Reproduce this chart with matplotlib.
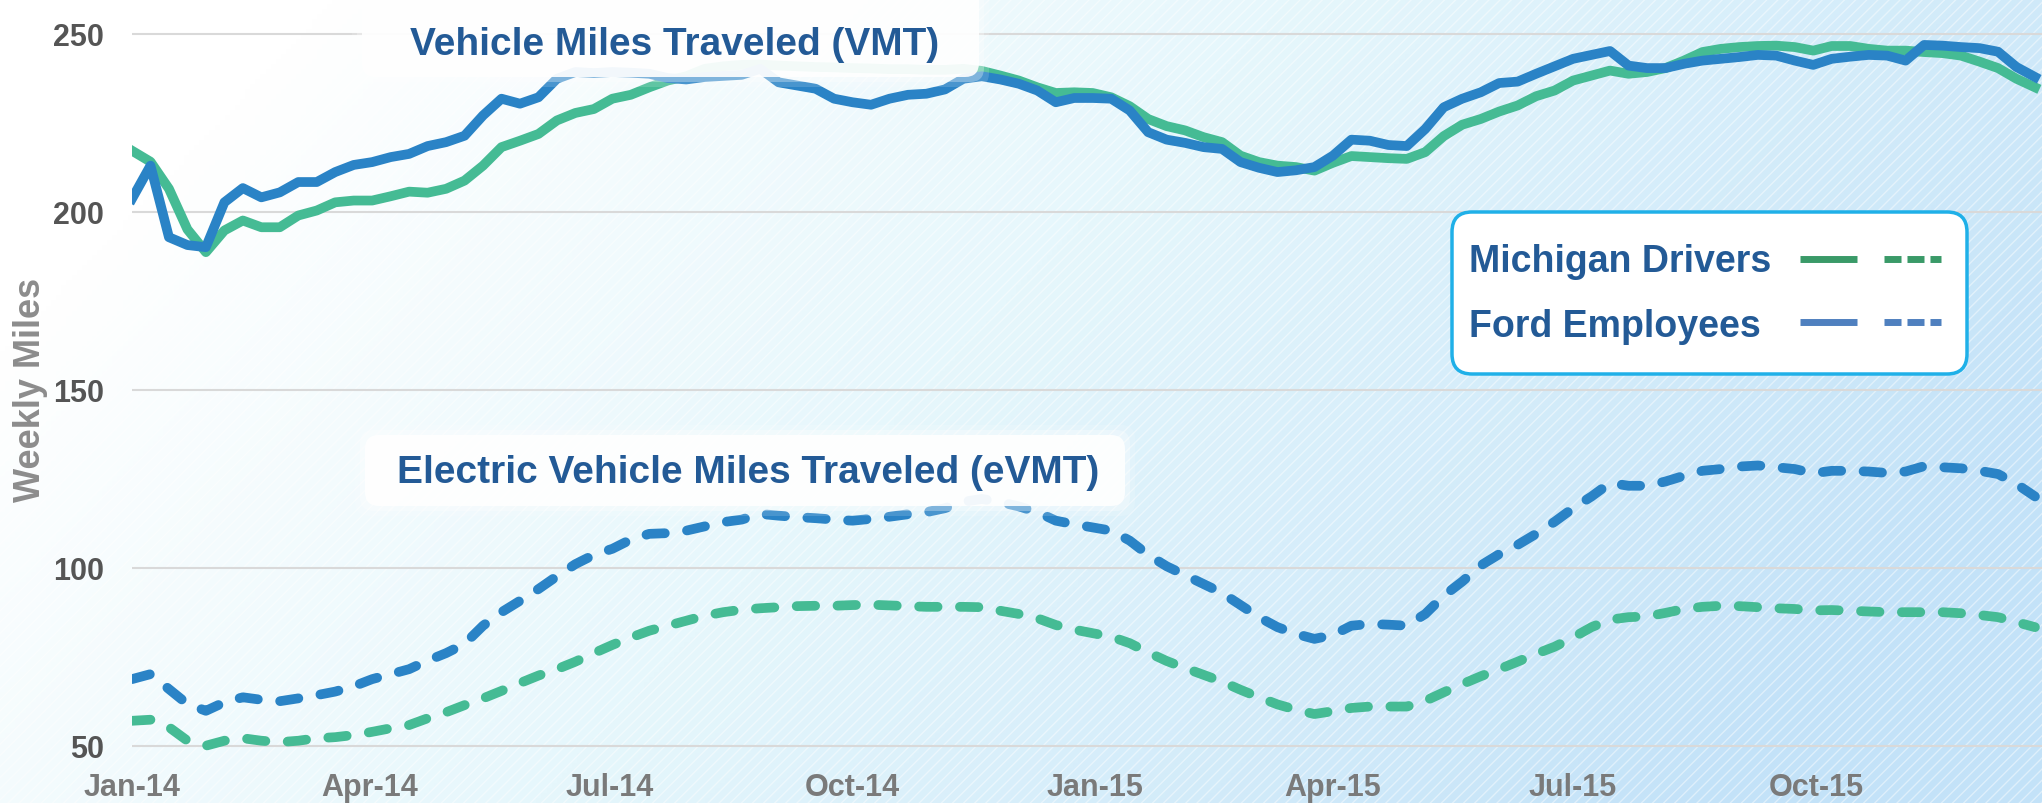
# vmt_chart.py
# weekly VMT / eVMT, Michigan drivers vs Ford employees

import numpy as np
import pandas as pd
import matplotlib
matplotlib.use("Agg")
import matplotlib.pyplot as plt
from matplotlib.patches import FancyBboxPatch, Rectangle
from matplotlib.lines import Line2D
from matplotlib.colors import LinearSegmentedColormap

# ---- data (one value per week) ----
weeks = pd.date_range("2014-01-01", periods=104, freq="7D")

michigan_vmt = [
    217.1, 214.0, 206.4, 195.0, 188.6, 194.7, 197.5, 195.6, 195.6, 198.9,
    200.3, 202.6, 203.1, 203.1, 204.3, 205.6, 205.3, 206.4, 208.7, 212.9,
    218.1, 219.9, 221.8, 225.6, 227.7, 228.8, 231.7, 232.8, 234.9, 236.8,
    238.0, 240.1, 240.8, 241.2, 241.3, 241.0, 240.8, 240.6, 240.5, 240.3,
    240.2, 240.0, 240.0, 239.8, 239.8, 240.1, 239.5, 238.2, 236.8, 234.9,
    233.3, 233.5, 233.3, 232.1, 229.6, 226.0, 224.0, 222.8, 220.9, 219.5,
    215.7, 213.9, 212.9, 212.5, 211.5, 213.7, 215.6, 215.3, 215.0, 214.8,
    216.7, 221.2, 224.4, 226.0, 228.1, 229.8, 232.4, 234.0, 236.8, 238.2,
    239.6, 238.7, 239.2, 240.3, 242.4, 244.8, 245.7, 246.2, 246.5, 246.6,
    246.2, 245.2, 246.5, 246.5, 245.7, 245.2, 245.2, 244.8, 244.5, 243.8,
    242.1, 240.3, 237.3, 234.9]

ford_vmt = [
    203.6, 212.9, 192.8, 190.6, 190.0, 202.6, 206.6, 204.0, 205.4, 208.3,
    208.3, 211.1, 213.1, 213.9, 215.3, 216.2, 218.4, 219.5, 221.3, 227.0,
    231.7, 230.3, 232.1, 237.3, 239.2, 238.9, 239.2, 239.0, 238.7, 237.5,
    237.1, 237.8, 238.1, 238.4, 240.1, 236.3, 235.4, 234.5, 231.7, 230.7,
    230.0, 231.7, 232.8, 233.1, 234.3, 237.3, 238.0, 237.1, 235.9, 234.0,
    230.7, 231.9, 231.9, 231.7, 228.4, 222.3, 220.2, 219.3, 218.1, 217.6,
    213.9, 212.3, 211.1, 211.6, 212.5, 215.7, 220.2, 219.9, 218.7, 218.4,
    223.2, 229.3, 231.7, 233.5, 236.1, 236.5, 238.7, 240.8, 242.9, 244.0,
    245.1, 241.0, 240.3, 240.3, 241.5, 242.4, 242.9, 243.4, 244.0, 243.8,
    242.4, 241.2, 242.9, 243.5, 244.0, 243.8, 242.4, 246.8, 246.6, 246.2,
    245.9, 244.9, 240.6, 237.8]

michigan_evmt = [
    57.0, 57.3, 55.2, 51.4, 50.0, 51.4, 52.1, 51.4, 51.0, 51.4,
    52.1, 52.4, 53.0, 53.9, 54.9, 55.8, 57.7, 59.4, 61.4, 63.3,
    65.4, 67.6, 69.7, 71.5, 73.6, 76.0, 78.3, 80.4, 82.3, 83.7,
    85.1, 86.5, 87.5, 88.2, 88.6, 88.9, 89.2, 89.3, 89.3, 89.5,
    89.6, 89.4, 89.2, 89.0, 89.0, 89.0, 88.9, 87.9, 87.0, 85.8,
    83.9, 82.6, 81.6, 80.6, 78.8, 76.2, 73.8, 71.8, 69.9, 68.0,
    65.7, 63.6, 61.6, 60.1, 58.9, 59.7, 60.6, 61.0, 61.0, 61.0,
    62.6, 65.0, 67.3, 69.5, 71.5, 73.6, 75.8, 77.8, 80.4, 83.3,
    85.4, 86.1, 86.3, 87.3, 88.4, 89.0, 89.3, 89.2, 88.9, 88.6,
    88.4, 88.0, 88.1, 87.9, 87.7, 87.5, 87.5, 87.5, 87.5, 87.2,
    86.7, 86.1, 84.7, 83.3]

ford_evmt = [
    68.7, 70.1, 65.9, 61.7, 59.8, 62.2, 63.6, 62.9, 62.5, 63.3,
    64.2, 65.2, 66.7, 68.7, 70.1, 71.5, 73.9, 76.0, 78.6, 83.7,
    87.5, 90.7, 94.0, 97.6, 101.0, 103.6, 105.3, 107.9, 109.5, 109.7,
    110.4, 111.6, 112.8, 113.5, 115.1, 114.6, 114.2, 113.9, 113.5, 113.2,
    113.7, 114.3, 115.0, 115.6, 116.7, 118.5, 119.3, 118.4, 117.2, 115.6,
    113.2, 112.2, 111.3, 110.4, 107.6, 103.6, 100.4, 97.9, 95.4, 92.9,
    89.5, 86.1, 83.3, 81.4, 80.0, 81.1, 83.7, 84.2, 84.0, 83.7,
    87.0, 92.1, 96.1, 100.6, 103.8, 106.4, 109.5, 112.9, 116.7, 120.0,
    123.8, 123.0, 123.0, 124.2, 125.8, 127.2, 127.7, 128.4, 128.7, 128.2,
    127.7, 126.5, 127.2, 127.2, 127.0, 126.6, 127.0, 128.5, 128.2, 127.9,
    127.2, 126.3, 123.5, 120.0]

tick_dates = pd.to_datetime(["2014-01-01", "2014-04-01", "2014-07-01", "2014-10-01",
                             "2015-01-01", "2015-04-01", "2015-07-01", "2015-10-01"])
tick_labels = ["Jan-14", "Apr-14", "Jul-14", "Oct-14",
               "Jan-15", "Apr-15", "Jul-15", "Oct-15"]
y_ticks = [50, 100, 150, 200, 250]

series_names = ["Michigan Drivers", "Ford Employees"]

# ---- style ----
plt.rcParams["font.family"] = ["Liberation Sans", "DejaVu Sans"]
plt.rcParams["font.weight"] = "bold"
plt.rcParams["hatch.linewidth"] = 1.0

green = "#45bb94"
blue = "#2a83c6"
title_blue = "#235a96"

W, H = 2042, 804
fig = plt.figure(figsize=(W / 100, H / 100), dpi=100)

# background: white -> light blue, with fine diagonal stripes
bg = fig.add_axes([0, 0, 1, 1], zorder=0)
xx, yy = np.meshgrid(np.linspace(0, 1, 400), np.linspace(0, 1, 160))
t = np.clip(0.95 * xx + 0.35 * yy - 0.15, 0, 1)
cmap = LinearSegmentedColormap.from_list(
    "bg", [(0, "#ffffff"), (0.45, "#e6f7fc"), (1, "#c3e2f8")])
bg.imshow(t, cmap=cmap, aspect="auto", extent=[0, 1, 0, 1], origin="upper")
bg.add_patch(Rectangle((0, 0), 1, 1, facecolor="none", edgecolor=(1, 1, 1, 0.45),
                       hatch="///", lw=0))
bg.set_xlim(0, 1)
bg.set_ylim(0, 1)
bg.axis("off")

# main chart
ax = fig.add_axes([132 / W, (H - 757.4) / H, 1 - 132 / W, 757.4 / H], zorder=1)
ax.patch.set_alpha(0)

ax.plot(weeks, michigan_vmt, color=green, lw=7, solid_joinstyle="round")
ax.plot(weeks, ford_vmt, color=blue, lw=7, solid_joinstyle="round")
ax.plot(weeks, michigan_evmt, color=green, lw=7, dashes=(1.9, 2.3),
        dash_capstyle="round", dash_joinstyle="round")
ax.plot(weeks, ford_evmt, color=blue, lw=7, dashes=(1.9, 2.3),
        dash_capstyle="round", dash_joinstyle="round")

ax.set_xlim(pd.Timestamp("2014-01-01"), pd.Timestamp("2015-12-25 16:00"))
ax.set_ylim(47, 259.7)
ax.set_yticks(y_ticks)
ax.set_xticks(tick_dates)
ax.set_xticklabels(tick_labels)
ax.grid(axis="y", color="#d9d9d9", lw=1.5)
ax.set_axisbelow(True)
for s in ax.spines.values():
    s.set_visible(False)
ax.tick_params(axis="y", length=0, pad=20, labelsize=22, labelcolor="#555555")
ax.tick_params(axis="x", length=0, pad=11, labelsize=22, labelcolor="#7a7a7a")

fig.text(31 / W, 1 - 390 / H, "Weekly Miles", rotation=90, ha="center", va="center",
         fontsize=26, color="#8c8c8c")

# overlay in pixel coordinates for title boxes and legend
ov = fig.add_axes([0, 0, 1, 1], zorder=3)
ov.set_xlim(0, W)
ov.set_ylim(H, 0)
ov.axis("off")

def soft_box(x0, y0, x1, y1):
    for grow, a in [(10, 0.15), (5, 0.3), (0, 0.9)]:
        ov.add_patch(FancyBboxPatch((x0 - grow, y0 - grow), x1 - x0 + 2 * grow,
                                    y1 - y0 + 2 * grow,
                                    boxstyle="round,pad=0,rounding_size=14",
                                    fc="white", ec="none", alpha=a))

soft_box(362, -20, 979, 78)
ov.text(674.5, 55, "Vehicle Miles Traveled (VMT)", ha="center", va="baseline",
        fontsize=28, color=title_blue)

soft_box(365, 436, 1125, 507)
ov.text(748, 483, "Electric Vehicle Miles Traveled (eVMT)", ha="center",
        va="baseline", fontsize=28, color=title_blue)

# legend
ov.add_patch(FancyBboxPatch((1452, 213), 515, 162,
                            boxstyle="round,pad=0,rounding_size=20",
                            fc="white", ec="#1fb0e8", lw=2.5))
leg_cols = ["#3a9a68", "#4f80bf"]
for i, name in enumerate(series_names):
    yb = 272 + i * 64.7
    yl = 260 + i * 63
    ov.text(1469, yb, name, ha="left", va="baseline", fontsize=27, color=title_blue)
    ov.add_line(Line2D([1800, 1857], [yl, yl], color=leg_cols[i], lw=5,
                       solid_capstyle="butt"))
    ov.add_line(Line2D([1884, 1941], [yl, yl], color=leg_cols[i], lw=5,
                       dashes=(2.45, 0.86), dash_capstyle="butt"))

fig.savefig("out.png", dpi=100)
